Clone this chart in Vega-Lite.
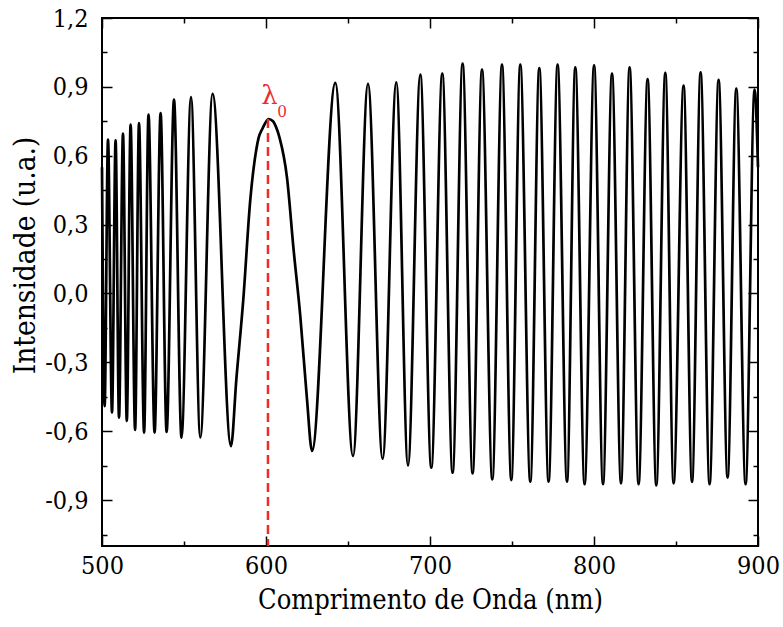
{
  "$schema": "https://vega.github.io/schema/vega-lite/v6.json",
  "width": 656,
  "height": 528,
  "autosize": {"type": "none"},
  "padding": {"left": 102, "top": 18, "right": 25, "bottom": 81},
  "background": "white",
  "config": {
    "view": {"stroke": "black", "strokeWidth": 2},
    "scale": {"continuousPadding": 0},
    "axis": {
      "domain": false, "grid": false, "labelFlush": false,
      "labelFont": "DejaVu Serif Condensed", "titleFont": "DejaVu Serif Condensed",
      "labelColor": "black", "titleColor": "black", "tickColor": "black",
      "tickWidth": 1.5, "labelFontSize": 25, "titleFontSize": 27, "titleFontWeight": "normal"
    }
  },
  "datasets": {
    "spec": [
      {"nm": 500.0, "i": 0.55}, {"nm": 501.59, "i": -0.491}, {"nm": 503.66, "i": 0.670},
      {"nm": 506.10, "i": -0.519}, {"nm": 508.29, "i": 0.667}, {"nm": 510.37, "i": -0.541},
      {"nm": 512.80, "i": 0.696}, {"nm": 515.12, "i": -0.555}, {"nm": 517.44, "i": 0.736},
      {"nm": 520.18, "i": -0.594}, {"nm": 522.56, "i": 0.742}, {"nm": 525.67, "i": -0.606},
      {"nm": 528.35, "i": 0.779}, {"nm": 532.07, "i": -0.606}, {"nm": 535.73, "i": 0.786},
      {"nm": 539.39, "i": -0.603}, {"nm": 543.90, "i": 0.844}, {"nm": 548.48, "i": -0.628},
      {"nm": 554.27, "i": 0.855}, {"nm": 559.94, "i": -0.627}, {"nm": 567.44, "i": 0.870},
      {"nm": 578.66, "i": -0.665}, {"nm": 581.92, "i": -0.374}, {"nm": 586.16, "i": -0.026},
      {"nm": 590.43, "i": 0.409}, {"nm": 594.09, "i": 0.627}, {"nm": 595.49, "i": 0.678},
      {"nm": 597.56, "i": 0.714}, {"nm": 599.57, "i": 0.743}, {"nm": 601.59, "i": 0.760},
      {"nm": 604.27, "i": 0.750}, {"nm": 606.71, "i": 0.714}, {"nm": 608.29, "i": 0.678},
      {"nm": 612.80, "i": 0.505}, {"nm": 616.83, "i": 0.191}, {"nm": 620.91, "i": -0.099},
      {"nm": 625.00, "i": -0.461}, {"nm": 628.05, "i": -0.686}, {"nm": 642.26, "i": 0.917},
      {"nm": 653.05, "i": -0.708}, {"nm": 662.20, "i": 0.913}, {"nm": 671.10, "i": -0.720},
      {"nm": 679.45, "i": 0.920}, {"nm": 686.59, "i": -0.749}, {"nm": 694.09, "i": 0.953},
      {"nm": 700.79, "i": -0.759}, {"nm": 707.50, "i": 0.958}, {"nm": 713.78, "i": -0.781},
      {"nm": 719.88, "i": 1.001}, {"nm": 725.98, "i": -0.784}, {"nm": 731.71, "i": 0.975},
      {"nm": 737.99, "i": -0.810}, {"nm": 743.90, "i": 0.997}, {"nm": 749.57, "i": -0.813},
      {"nm": 755.06, "i": 0.997}, {"nm": 761.16, "i": -0.820}, {"nm": 766.65, "i": 0.982},
      {"nm": 772.32, "i": -0.820}, {"nm": 777.80, "i": 0.997}, {"nm": 783.54, "i": -0.820},
      {"nm": 788.60, "i": 0.985}, {"nm": 794.27, "i": -0.831}, {"nm": 800.06, "i": 0.994},
      {"nm": 805.49, "i": -0.831}, {"nm": 810.98, "i": 0.958}, {"nm": 816.47, "i": -0.827},
      {"nm": 821.71, "i": 0.985}, {"nm": 827.20, "i": -0.831}, {"nm": 832.69, "i": 0.934},
      {"nm": 837.99, "i": -0.836}, {"nm": 843.48, "i": 0.961}, {"nm": 848.54, "i": -0.827},
      {"nm": 854.63, "i": 0.905}, {"nm": 859.76, "i": -0.821}, {"nm": 865.00, "i": 0.963},
      {"nm": 870.49, "i": -0.831}, {"nm": 875.98, "i": 0.931}, {"nm": 881.46, "i": -0.802},
      {"nm": 886.77, "i": 0.892}, {"nm": 892.44, "i": -0.831}, {"nm": 897.93, "i": 0.888},
      {"nm": 900.0, "i": 0.55}
    ],
    "lam": [{"nm": 601.2, "top": 0.76, "bot": -1.1}],
    "labels": [{"nm": 602.1, "i": 0.827, "t": "λ"}],
    "sub": [{"nm": 606.9, "i": 0.770, "t": "0"}],
    "dummy": [{"nm": 700, "i": 0}]
  },
  "layer": [
    {
      "data": {"name": "spec"},
      "mark": {"type": "line", "interpolate": "monotone", "color": "black", "strokeWidth": 2.7},
      "encoding": {
        "x": {
          "field": "nm", "type": "quantitative",
          "scale": {"domain": [500, 900], "nice": false, "zero": false, "padding": 0},
          "axis": {"orient": "bottom", "values": [500, 600, 700, 800, 900], "tickSize": -10, "labelPadding": 17, "title": "Comprimento de Onda (nm)", "titlePadding": 9}
        },
        "y": {
          "field": "i", "type": "quantitative",
          "scale": {"domain": [-1.1, 1.2], "nice": false, "zero": false, "padding": 0},
          "axis": {"orient": "left", "values": [-0.9, -0.6, -0.3, 0, 0.3, 0.6, 0.9, 1.2], "tickSize": -10, "labelPadding": 24,
                   "labelExpr": "replace(replace(format(datum.value, '.1f'), '.', ','), '−', '-')",
                   "title": "Intensidade (u.a.)", "titleFontSize": 29.5, "titlePadding": 4, "titleY": 237}
        }
      }
    },
    {
      "data": {"name": "lam"},
      "mark": {"type": "rule", "color": "#ee2a2a", "strokeWidth": 2.5, "strokeDash": [9, 5]},
      "encoding": {
        "x": {"field": "nm", "type": "quantitative", "scale": {"domain": [500, 900], "nice": false, "zero": false, "padding": 0}, "axis": null},
        "y": {"field": "top", "type": "quantitative", "scale": {"domain": [-1.1, 1.2], "nice": false, "zero": false, "padding": 0}, "axis": null},
        "y2": {"field": "bot"}
      }
    },
    {
      "data": {"name": "labels"},
      "mark": {"type": "text", "font": "DejaVu Serif", "fontSize": 26, "color": "#ee2a2a", "align": "center", "baseline": "alphabetic"},
      "encoding": {
        "x": {"field": "nm", "type": "quantitative", "scale": {"domain": [500, 900], "nice": false, "zero": false, "padding": 0}, "axis": null},
        "y": {"field": "i", "type": "quantitative", "scale": {"domain": [-1.1, 1.2], "nice": false, "zero": false, "padding": 0}, "axis": null},
        "text": {"field": "t"}
      }
    },
    {
      "data": {"name": "sub"},
      "mark": {"type": "text", "font": "DejaVu Serif Condensed", "fontSize": 17, "color": "#ee2a2a", "align": "left", "baseline": "alphabetic"},
      "encoding": {
        "x": {"field": "nm", "type": "quantitative", "scale": {"domain": [500, 900], "nice": false, "zero": false, "padding": 0}, "axis": null},
        "y": {"field": "i", "type": "quantitative", "scale": {"domain": [-1.1, 1.2], "nice": false, "zero": false, "padding": 0}, "axis": null},
        "text": {"field": "t"}
      }
    },
    {
      "data": {"name": "dummy"},
      "mark": {"type": "point", "opacity": 0},
      "encoding": {
        "x": {"field": "nm", "type": "quantitative", "scale": {"domain": [500, 900], "nice": false, "zero": false, "padding": 0},
              "axis": {"orient": "bottom", "values": [550, 650, 750, 850], "tickSize": -5, "labels": false, "title": null}},
        "y": {"field": "i", "type": "quantitative", "scale": {"domain": [-1.1, 1.2], "nice": false, "zero": false, "padding": 0},
              "axis": {"orient": "left", "values": [-1.05, -0.75, -0.45, -0.15, 0.15, 0.45, 0.75, 1.05], "tickSize": -5, "labels": false, "title": null}}
      }
    },
    {
      "data": {"name": "dummy"},
      "mark": {"type": "point", "opacity": 0},
      "encoding": {
        "x": {"field": "nm", "type": "quantitative", "scale": {"domain": [500, 900], "nice": false, "zero": false, "padding": 0},
              "axis": {"orient": "top", "values": [500, 600, 700, 800, 900], "tickSize": -10, "labels": false, "title": null}},
        "y": {"field": "i", "type": "quantitative", "scale": {"domain": [-1.1, 1.2], "nice": false, "zero": false, "padding": 0},
              "axis": {"orient": "right", "values": [-0.9, -0.6, -0.3, 0, 0.3, 0.6, 0.9, 1.2], "tickSize": -10, "labels": false, "title": null}}
      }
    },
    {
      "data": {"name": "dummy"},
      "mark": {"type": "point", "opacity": 0},
      "encoding": {
        "x": {"field": "nm", "type": "quantitative", "scale": {"domain": [500, 900], "nice": false, "zero": false, "padding": 0},
              "axis": {"orient": "top", "values": [550, 650, 750, 850], "tickSize": -5, "labels": false, "title": null}},
        "y": {"field": "i", "type": "quantitative", "scale": {"domain": [-1.1, 1.2], "nice": false, "zero": false, "padding": 0},
              "axis": {"orient": "right", "values": [-1.05, -0.75, -0.45, -0.15, 0.15, 0.45, 0.75, 1.05], "tickSize": -5, "labels": false, "title": null}}
      }
    }
  ],
  "resolve": {"axis": {"x": "independent", "y": "independent"}}
}
